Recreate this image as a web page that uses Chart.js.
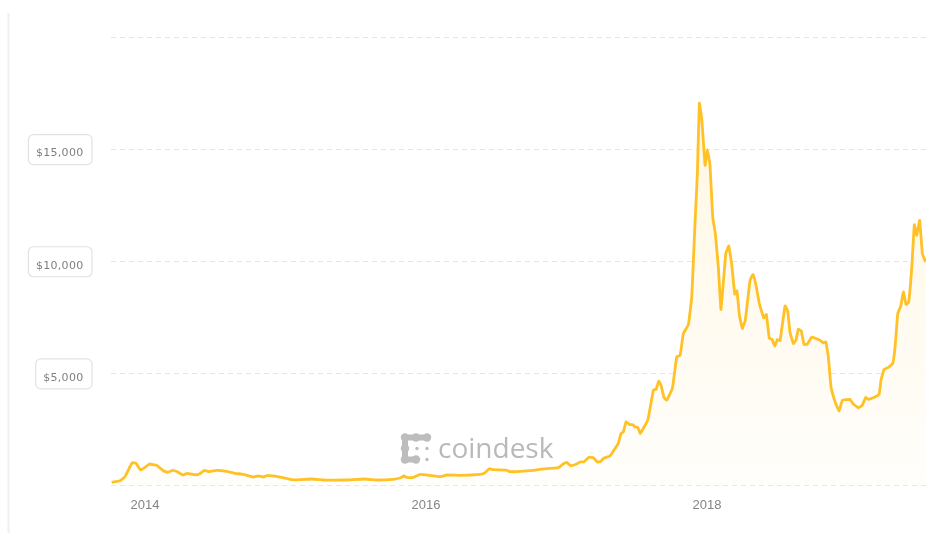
<!DOCTYPE html>
<html>
<head>
<meta charset="utf-8">
<title>Bitcoin price</title>
<script src="https://cdn.jsdelivr.net/npm/chart.js@4"></script>
<style>
    html, body { margin: 0; padding: 0; background: #fff; }
    #wrap { position: relative; width: 930px; height: 533px; }
</style>
</head>
<body>
<div id="wrap"><canvas id="priceChart"></canvas></div>
<script>
// decimal years
const years = [
    2013.763, 2013.822, 2013.858, 2013.893, 2013.910, 2013.936, 2013.969, 2014.000, 2014.031, 2014.083,
    2014.130, 2014.162, 2014.197, 2014.230, 2014.268, 2014.301, 2014.356, 2014.386, 2014.422, 2014.458,
    2014.510, 2014.581, 2014.641, 2014.700, 2014.771, 2014.806, 2014.842, 2014.866, 2014.925, 2014.996,
    2015.044, 2015.103, 2015.189, 2015.281, 2015.423, 2015.566, 2015.658, 2015.765, 2015.815, 2015.843,
    2015.863, 2015.910, 2015.957, 2016.005, 2016.100, 2016.147, 2016.242, 2016.384, 2016.420, 2016.450,
    2016.479, 2016.569, 2016.598, 2016.669, 2016.763, 2016.811, 2016.941, 2016.976, 2017.001, 2017.030,
    2017.072, 2017.096, 2017.124, 2017.162, 2017.191, 2017.219, 2017.238, 2017.267, 2017.309, 2017.368,
    2017.388, 2017.404, 2017.423, 2017.447, 2017.475, 2017.487, 2017.506, 2017.525, 2017.578, 2017.618,
    2017.637, 2017.656, 2017.672, 2017.694, 2017.713, 2017.753, 2017.784, 2017.808, 2017.831, 2017.867,
    2017.891, 2017.914, 2017.931, 2017.945, 2017.962, 2017.986, 2018.002, 2018.021, 2018.040, 2018.059,
    2018.080, 2018.099, 2018.133, 2018.154, 2018.175, 2018.197, 2018.213, 2018.230, 2018.251, 2018.272,
    2018.306, 2018.327, 2018.348, 2018.372, 2018.403, 2018.422, 2018.443, 2018.462, 2018.482, 2018.500,
    2018.519, 2018.555, 2018.574, 2018.590, 2018.614, 2018.633, 2018.649, 2018.671, 2018.690, 2018.713,
    2018.745, 2018.804, 2018.827, 2018.845, 2018.863, 2018.882, 2018.911, 2018.939, 2018.963, 2019.017,
    2019.037, 2019.077, 2019.105, 2019.129, 2019.148, 2019.183, 2019.224, 2019.238, 2019.259, 2019.290,
    2019.321, 2019.338, 2019.357, 2019.378, 2019.397, 2019.416, 2019.435, 2019.457, 2019.475, 2019.492,
    2019.513, 2019.532, 2019.556
];

const prices = [
    143, 214, 392, 837, 1015, 989, 690, 811, 958, 900,
    659, 588, 677, 615, 468, 543, 481, 512, 677, 615,
    677, 632, 543, 499, 379, 423, 379, 436, 423, 334,
    258, 258, 290, 245, 245, 290, 245, 276, 334, 423,
    365, 365, 499, 468, 392, 468, 454, 499, 570, 748,
    704, 690, 615, 632, 677, 722, 793, 958, 1033, 882,
    958, 1047, 1060, 1269, 1238, 1047, 1060, 1225, 1314, 1880,
    2325, 2383, 2842, 2726, 2695, 2606, 2606, 2325, 2917, 4254,
    4285, 4654, 4476, 3911, 3808, 4329, 5737, 5799, 6770, 7180,
    8409, 11692, 13919, 17050, 16355, 14275, 14974, 14275, 11972, 11233,
    9745, 7848, 10342, 10681, 9897, 8529, 8676, 7594, 7002, 7371,
    9153, 9407, 8930, 8115, 7474, 7625, 6556, 6525, 6213, 6512,
    6458, 8008, 7772, 6837, 6334, 6481, 6970, 6881, 6289, 6302,
    6614, 6481, 6360, 6405, 5737, 4401, 3732, 3318, 3808, 3839,
    3661, 3465, 3585, 3928, 3839, 3911, 4062, 4699, 5175, 5265,
    5443, 6182, 7670, 7995, 8632, 8071, 8186, 9745, 11634, 11157,
    11825, 10342, 9968
];

const xTicks = [2014, 2016, 2018];
const yTicks = [0, 5000, 10000, 15000, 20000];
const yLabels = ['', '$5,000', '$10,000', '$15,000', ''];

// price labels in rounded boxes, the rule at the far left and the logo
const decorations = {
    id: 'decorations',
    beforeDraw(chart) {
        const c = chart.ctx;
        c.save();
        c.fillStyle = '#efefef';
        c.fillRect(7.5, 13, 2, 520);
        c.restore();
    },
    afterDraw(chart) {
        const c = chart.ctx;
        const sy = chart.scales.y;
        c.save();
        c.font = '11px "DejaVu Sans"';
        c.letterSpacing = '0.3px';
        c.textAlign = 'left';
        c.textBaseline = 'middle';
        c.lineWidth = 1.2;
        yTicks.forEach((v, i) => {
            if (!yLabels[i]) return;
            const w = c.measureText(yLabels[i]).width;
            const y = sy.getPixelForValue(v);
            c.strokeStyle = '#e2e2e2';
            c.beginPath();
            c.roundRect(83.5 - w - 7.5, y - 14.5, w + 16, 30, 5);
            c.stroke();
            c.fillStyle = '#7f7f7f';
            c.fillText(yLabels[i], 83.5 - w, y + 4.5);
        });
        c.letterSpacing = '0px';

        // coindesk mark
        c.fillStyle = '#bdbdbd';
        c.strokeStyle = '#bdbdbd';
        c.lineCap = 'round';
        c.lineWidth = 6;
        c.beginPath();
        c.moveTo(405, 437.5);
        c.lineTo(427, 437.5);
        c.moveTo(405, 437.5);
        c.lineTo(405, 459.5);
        c.lineTo(416, 459.5);
        c.stroke();
        [[405, 437.5], [416, 437.5], [427, 437.5], [405, 448.5], [405, 459.5], [416, 459.5]].forEach(p => {
            c.beginPath();
            c.arc(p[0], p[1], 4.2, 0, Math.PI * 2);
            c.fill();
        });
        [[417, 448.5], [427, 448.5], [427, 459.5]].forEach(p => {
            c.beginPath();
            c.arc(p[0], p[1], 1.7, 0, Math.PI * 2);
            c.fill();
        });
        c.fillStyle = '#b9b9b9';
        c.font = '28px "Open Sans"';
        c.textAlign = 'left';
        c.textBaseline = 'alphabetic';
        c.fillText('coindesk', 438, 458);
        c.restore();
    }
};

new Chart(document.getElementById('priceChart'), {
    type: 'line',
    data: {
        datasets: [{
            data: years.map((x, i) => ({ x: x, y: prices[i] })),
            borderColor: '#ffc125',
            borderWidth: 2.8,
            pointRadius: 0,
            tension: 0.08,
            fill: 'origin',
            backgroundColor(ctx) {
                const area = ctx.chart.chartArea;
                if (!area) return '#fffaf0';
                const g = ctx.chart.ctx.createLinearGradient(0, area.top + 60, 0, area.bottom);
                g.addColorStop(0, '#fff7e2');
                g.addColorStop(1, '#fffefb');
                return g;
            },
        }],
    },
    options: {
        responsive: true,
        maintainAspectRatio: false,
        animation: false,
        layout: { padding: { top: 37, right: 4, left: 0, bottom: 0 } },
        plugins: { legend: { display: false }, tooltip: { enabled: false } },
        scales: {
            x: {
                type: 'linear',
                min: 2013.758,
                max: 2019.558,
                afterBuildTicks(axis) { axis.ticks = xTicks.map(v => ({ value: v })); },
                afterFit(axis) { axis.height = 47.5; },
                grid: { display: false },
                border: { display: false },
                ticks: {
                    callback: v => String(v),
                    color: '#858585',
                    font: { family: '"Liberation Sans"', size: 13 },
                    padding: 4,
                    maxRotation: 0,
                    autoSkip: false,
                },
            },
            y: {
                min: 0,
                max: 20000,
                afterBuildTicks(axis) { axis.ticks = yTicks.map(v => ({ value: v })); },
                afterFit(axis) { axis.width = 111; },
                grid: {
                    color: '#e4e4e4',
                    drawTicks: false,
                },
                border: { display: false, dash: [5, 4] },
                ticks: { display: false },
            },
        },
    },
    plugins: [decorations],
});
</script>
</body>
</html>
